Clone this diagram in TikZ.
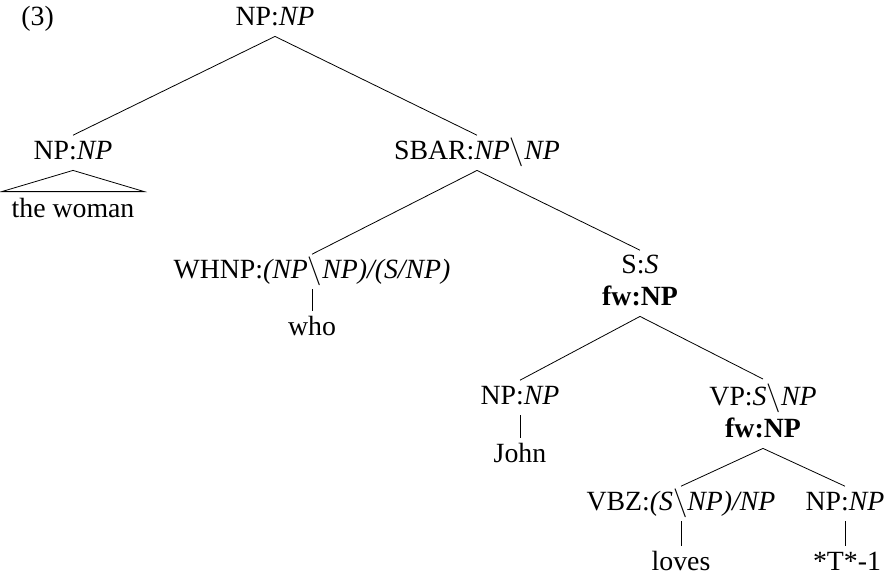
\documentclass[tikz,border=0pt]{standalone}
\usepackage{fontspec}
\setmainfont{Liberation Serif}

\newcommand{\bs}{$\backslash$}

\begin{document}
\begin{tikzpicture}[x=0.5pt, y=-0.5pt,
  every node/.style = {font=\fontsize{13.9}{16}\selectfont, inner sep=2pt},
  cat/.style = {anchor=base, text height=9.7pt, text depth=3.5pt},
  fwcat/.style = {anchor=base, align=center, text depth=3.5pt},
  roof/.style = {anchor=base, text height=9.7pt, inner xsep=4.75pt, inner ysep=2.8pt}]
  \useasboundingbox (0,0) rectangle (888,575);

  \node[anchor=base west] (ex) at (17,25) {(3)};

  \node[cat] (root) at (275,25) {NP:\textit{NP}};
  \node[cat] (lnp) at (73,159) {NP:\textit{NP}};
  \node[roof] (woman) at (73,217) {the woman};
  \node[cat] (sbar) at (477,159) {SBAR:\textit{NP}\bs\textit{NP}};
  \node[cat] (whnp) at (312,278) {WHNP:\textit{(NP}\bs\textit{NP)/(S/NP)}};
  \node[cat] (who) at (312,335) {who};
  \node[fwcat] (s) at (640,305) {S:\textit{S}\\\textbf{fw:NP}};
  \node[cat] (jnp) at (520,404) {NP:\textit{NP}};
  \node[cat] (john) at (520,462) {John};
  \node[fwcat] (vp) at (763,437) {VP:\textit{S}\bs\textit{NP}\\\textbf{fw:NP}};
  \node[cat] (vbz) at (681,510) {VBZ:\textit{(S}\bs\textit{NP)/NP}};
  \node[cat] (loves) at (681,570) {loves};
  \node[cat] (tnp) at (845,510) {NP:\textit{NP}};
  \node[cat] (trace) at (847,570) {*T*-1};

  \draw (root.south) -- (lnp.north);
  \draw (root.south) -- (sbar.north);
  \draw (lnp.south) -- (woman.north west) -- (woman.north east) -- cycle;
  \draw (sbar.south) -- (whnp.north);
  \draw (sbar.south) -- (s.north);
  \draw (whnp.south) -- (who.north);
  \draw (s.south) -- (jnp.north);
  \draw (s.south) -- (vp.north);
  \draw (jnp.south) -- (john.north);
  \draw (vp.south) -- (vbz.north);
  \draw (vp.south) -- (tnp.north);
  \draw (vbz.south) -- (loves.north);
  \draw (tnp.south) -- (tnp.south |- trace.north);
\end{tikzpicture}
\end{document}
